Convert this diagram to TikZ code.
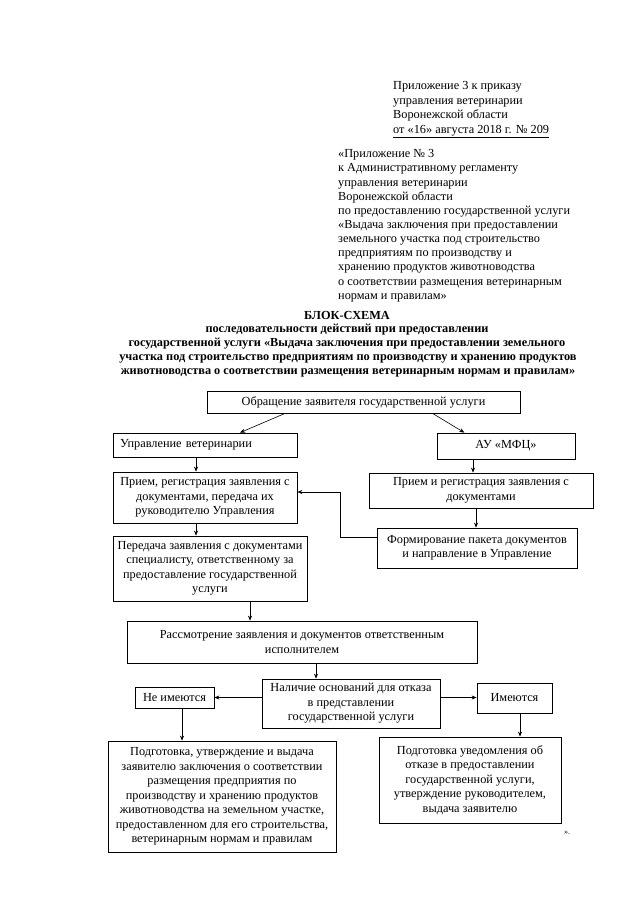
\documentclass[tikz,border=0pt]{standalone}
\usepackage{fontspec}
\setmainfont{Liberation Serif}
\usetikzlibrary{arrows.meta,calc}
\begin{document}
\begin{tikzpicture}[x=1pt,y=-1pt,
  box/.style={draw, line width=0.8pt, inner sep=0pt, align=center, font=\fontsize{12.3}{14.5}\selectfont},
  arr/.style={-{Stealth[length=5pt,width=4pt]}, line width=0.6pt},
  ln/.style={inner sep=0pt, anchor=base west, font=\fontsize{12.3}{14.5}\selectfont},
  tl/.style={inner sep=0pt, anchor=base, font=\fontsize{12.3}{14}\selectfont\bfseries}]
\useasboundingbox[fill=white] (0,0) rectangle (640,905);

% header 1
\node[ln] (h1a) at (393,89) {Приложение 3 к приказу};
\node[ln] (h1b) at (393,104) {управления ветеринарии};
\node[ln] (h1c) at (393,118.5) {Воронежской области};
\node[ln] (h1d) at (393,133) {\underline{от «16» августа 2018 г. № 209}};

% header 2
\foreach \t [count=\i] in {«Приложение № 3,
  к Административному регламенту,
  управления ветеринарии,
  Воронежской области,
  по предоставлению государственной услуги,
  «Выдача заключения при предоставлении,
  земельного участка под строительство,
  предприятиям по производству и,
  хранению продуктов животноводства,
  о соответствии размещения ветеринарным,
  нормам и правилам»}
  \node[ln] (h2-\i) at (338,{157.7+14.15*(\i-1)}) {\t};

% title
\node[tl] (t1) at (347,319) {БЛОК-СХЕМА};
\node[tl] (t2) at (347,332) {последовательности действий при предоставлении};
\node[tl] (t3) at (347,346) {государственной услуги «Выдача заключения при предоставлении земельного};
\node[tl] (t4) at (348,360) {участка под строительство предприятиям по производству и хранению продуктов};
\node[tl] (t5) at (348,374) {животноводства о соответствии размещения ветеринарным нормам и правилам»};

% boxes
\node[box, minimum width=313pt, minimum height=22pt] (obr) at (363.5,402) {Обращение заявителя государственной услуги};
\node[box, align=left, text width=170pt, inner xsep=7pt, minimum height=24pt] (uprav) at (205,445) {Управление ветеринарии};
\node[box, minimum width=138pt, minimum height=26pt] (au) at (506,446) {АУ «МФЦ»};
\node[box, minimum width=184pt, minimum height=51pt] (priem1) at (205,497.5) {Прием, регистрация заявления с\\документами, передача их\\руководителю Управления};
\node[box, minimum width=224pt, minimum height=35pt] (priem2) at (481,490.5) {Прием и регистрация заявления с\\документами};
\node[box, minimum width=200pt, minimum height=40pt] (form) at (477,548) {Формирование пакета документов\\и направление в Управление};
\node[box, minimum width=194pt, minimum height=65pt] (pered) at (210,568.5) {Передача заявления с документами\\специалисту, ответственному за\\предоставление государственной\\услуги};
\node[box, minimum width=350pt, minimum height=42pt] (rassm) at (302,642) {Рассмотрение заявления и документов ответственным\\исполнителем};
\node[box, minimum width=178pt, minimum height=49pt] (nal) at (351,703.5) {Наличие оснований для отказа\\в представлении\\государственной услуги};
\node[box, minimum width=79pt, minimum height=21pt] (neim) at (174.5,697.5) {Не имеются};
\node[box, minimum width=75pt, minimum height=30pt] (im) at (514.5,698) {Имеются};
\node[box, minimum width=228pt, minimum height=111pt] (fin1) at (222,796.5) {Подготовка, утверждение и выдача\\заявителю заключения о соответствии\\размещения предприятия по\\производству и хранению продуктов\\животноводства на земельном участке,\\предоставленном для его строительства,\\ветеринарным нормам и правилам};
\node[box, minimum width=182pt, minimum height=86pt] (fin2) at (470,780) {Подготовка уведомления об\\отказе в предоставлении\\государственной услуги,\\утверждение руководителем,\\выдача заявителю};

\node[inner sep=0pt, font=\fontsize{8}{9}\selectfont] (q) at (567,833) {».};

% connectors
\draw[arr] ($(obr.south west)!0.25!(obr.south east)$) -- ($(uprav.north west)!0.69!(uprav.north east)$);
\draw[arr] ($(obr.south west)!0.72!(obr.south east)$) -- ($(au.north west)!0.2!(au.north east)$);
\draw[arr] ([xshift=-9pt]uprav.south) -- ([xshift=-9pt]uprav.south |- priem1.north);
\draw[arr] ([xshift=-33pt]au.south) -- ([xshift=-33pt]au.south |- priem2.north);
\draw[arr] ([xshift=-5pt]priem2.south) -- ([xshift=-5pt]priem2.south |- form.north);
\draw[arr] ([xshift=-9pt]priem1.south) -- ([xshift=-9pt]priem1.south |- pered.north);
\draw[arr] ([yshift=11pt]form.west) -| ($(priem1.east)+(43,-5.5)$) -- ($(priem1.east)+(0,-5.5)$);
\draw[arr] ([xshift=40pt]pered.south) -- ([xshift=40pt]pered.south |- rassm.north);
\draw[arr] ([xshift=14pt]rassm.south) -- ([xshift=14pt]rassm.south |- nal.north);
\draw[arr] ([yshift=6pt]nal.west) -- ([yshift=6pt]nal.west -| neim.east);
\draw[arr] ([yshift=6pt]nal.east) -- ([yshift=6pt]nal.east -| im.west);
\draw[arr] ([xshift=7.5pt]neim.south) -- ([xshift=7.5pt]neim.south |- fin1.north);
\draw[arr] ([xshift=5.5pt]im.south) -- ([xshift=5.5pt]im.south |- fin2.north);
\end{tikzpicture}
\end{document}
